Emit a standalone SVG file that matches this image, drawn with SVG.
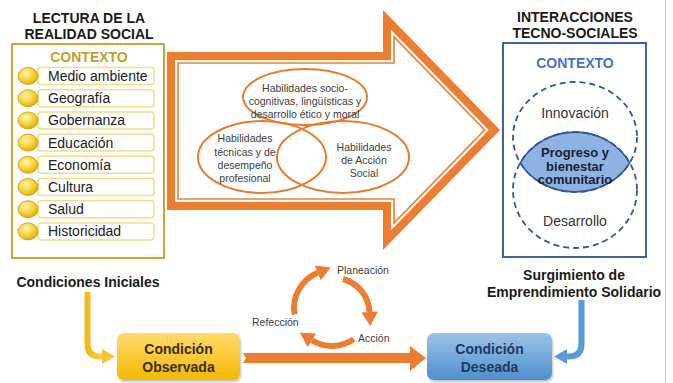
<svg xmlns="http://www.w3.org/2000/svg" width="673" height="383" viewBox="0 0 673 383">
  <defs>
    <radialGradient id="bead" cx="0.4" cy="0.35" r="0.7">
      <stop offset="0" stop-color="#fff6b0"/>
      <stop offset="0.55" stop-color="#f7d23a"/>
      <stop offset="1" stop-color="#d9a800"/>
    </radialGradient>
    <linearGradient id="gold" x1="0" y1="0" x2="0" y2="1">
      <stop offset="0" stop-color="#ffdb6e"/>
      <stop offset="1" stop-color="#f5b800"/>
    </linearGradient>
    <linearGradient id="sky" x1="0" y1="0" x2="0" y2="1">
      <stop offset="0" stop-color="#9dc3e6"/>
      <stop offset="1" stop-color="#4f8fcf"/>
    </linearGradient>
    <linearGradient id="yellowBar" x1="0" y1="0" x2="1" y2="0">
      <stop offset="0" stop-color="#f2b81e"/>
      <stop offset="1" stop-color="#f9cf4d"/>
    </linearGradient>
    <filter id="shadow" x="-10%" y="-10%" width="130%" height="140%">
      <feDropShadow dx="1" dy="2" stdDeviation="1.2" flood-color="#000" flood-opacity="0.25"/>
    </filter>
    <clipPath id="topClip"><ellipse cx="575" cy="137" rx="62" ry="55"/></clipPath>
  </defs>
  <style>
    text { font-family: "Liberation Sans", Arial, sans-serif; }
    .title { font-size: 14px; font-weight: bold; fill: #1a1a1a; text-anchor: middle; }
    .ctxGold { font-size: 14px; font-weight: bold; fill: #c4a02c; text-anchor: middle; }
    .ctxBlue { font-size: 14px; font-weight: bold; fill: #4472c4; text-anchor: middle; }
    .item { font-size: 14px; fill: #1a1a1a; }
    .itemBox { fill: #ffffff; stroke: #f3dc8a; stroke-width: 1.5; }
    .bead { fill: url(#bead); stroke: #c99a10; stroke-width: 0.8; }
    .venn { fill: none; stroke: #e57c33; stroke-width: 2; }
    .small { font-size: 10.5px; fill: #404040; text-anchor: middle; }
    .cyc { font-size: 10.5px; fill: #404040; }
    .dash { fill: none; stroke: #35568f; stroke-width: 1.8; stroke-dasharray: 6 4; }
    .mid { font-size: 14px; fill: #333333; text-anchor: middle; }
    .lens { font-size: 13px; font-weight: bold; fill: #1a1f33; text-anchor: middle; }
    .boxTxt { font-size: 14px; font-weight: bold; text-anchor: middle; }
    .orangeArc { fill: none; stroke: #ed7d31; stroke-width: 6; }
    .orangeHead { fill: #ed7d31; }
  </style>

  <rect width="673" height="383" fill="#ffffff"/>
  <line x1="665.5" y1="0" x2="665.5" y2="383" stroke="#c8c8c8" stroke-width="1"/>

  <!-- Left panel: reading of social reality -->
  <g id="lectura">
    <text class="title" x="89" y="23">LECTURA DE LA</text>
    <text class="title" x="89" y="39">REALIDAD SOCIAL</text>
    <rect x="12" y="44" width="152" height="214" fill="#ffffff" stroke="#c9a73f" stroke-width="2"/>
    <text class="ctxGold" x="89" y="62">CONTEXTO</text>
    <g id="item-medio"><rect class="itemBox" x="38" y="67.5" width="116" height="17" rx="3"/><ellipse class="bead" cx="28" cy="76" rx="10" ry="8.5"/><text class="item" x="48" y="81">Medio ambiente</text></g>
    <g id="item-geografia"><rect class="itemBox" x="38" y="89.7" width="116" height="17" rx="3"/><ellipse class="bead" cx="28" cy="98.2" rx="10" ry="8.5"/><text class="item" x="48" y="103.2">Geografía</text></g>
    <g id="item-gobernanza"><rect class="itemBox" x="38" y="111.9" width="116" height="17" rx="3"/><ellipse class="bead" cx="28" cy="120.4" rx="10" ry="8.5"/><text class="item" x="48" y="125.4">Gobernanza</text></g>
    <g id="item-educacion"><rect class="itemBox" x="38" y="134.1" width="116" height="17" rx="3"/><ellipse class="bead" cx="28" cy="142.6" rx="10" ry="8.5"/><text class="item" x="48" y="147.6">Educación</text></g>
    <g id="item-economia"><rect class="itemBox" x="38" y="156.3" width="116" height="17" rx="3"/><ellipse class="bead" cx="28" cy="164.8" rx="10" ry="8.5"/><text class="item" x="48" y="169.8">Economía</text></g>
    <g id="item-cultura"><rect class="itemBox" x="38" y="178.5" width="116" height="17" rx="3"/><ellipse class="bead" cx="28" cy="187" rx="10" ry="8.5"/><text class="item" x="48" y="192">Cultura</text></g>
    <g id="item-salud"><rect class="itemBox" x="38" y="200.7" width="116" height="17" rx="3"/><ellipse class="bead" cx="28" cy="209.2" rx="10" ry="8.5"/><text class="item" x="48" y="214.2">Salud</text></g>
    <g id="item-historicidad"><rect class="itemBox" x="38" y="222.9" width="116" height="17" rx="3"/><ellipse class="bead" cx="28" cy="231.4" rx="10" ry="8.5"/><text class="item" x="48" y="236.4">Historicidad</text></g>
  </g>

  <!-- Central block arrow with skill Venn diagram -->
  <g id="habilidades">
    <polygon points="167,52 383,52 383,10 500,130 383,250 383,210 167,210" fill="#ed7d31"/>
    <polygon points="175,60 391,60 391,29.7 488.8,130 391,230.3 391,202 175,202" fill="#ffffff"/>
    <polygon points="178,63 394,63 394,37 484.6,130 394,223 394,199 178,199" fill="none" stroke="#ed7d31" stroke-width="1.6"/>
    <ellipse class="venn" cx="305" cy="97" rx="62" ry="28"/>
    <ellipse class="venn" cx="262" cy="157" rx="64" ry="36"/>
    <ellipse class="venn" cx="343" cy="157" rx="66" ry="36"/>
    <text class="small" x="305" y="92">Habilidades socio-</text>
    <text class="small" x="305" y="105">cognitivas, lingüísticas y</text>
    <text class="small" x="305" y="118">desarrollo ético y moral</text>
    <text class="small" x="245" y="142">Habilidades</text>
    <text class="small" x="245" y="156">técnicas y de</text>
    <text class="small" x="245" y="169">desempeño</text>
    <text class="small" x="245" y="182">profesional</text>
    <text class="small" x="364" y="151">Habilidades</text>
    <text class="small" x="364" y="164">de Acción</text>
    <text class="small" x="364" y="177">Social</text>
  </g>

  <!-- Right panel: techno-social interactions -->
  <g id="interacciones">
    <text class="title" x="575" y="22">INTERACCIONES</text>
    <text class="title" x="575" y="38">TECNO-SOCIALES</text>
    <rect x="503" y="43" width="143" height="214" fill="#ffffff" stroke="#3f63a0" stroke-width="2"/>
    <text class="ctxBlue" x="575" y="68">CONTEXTO</text>
    <!-- overlap of the two dashed rings -->
    <ellipse cx="575" cy="190" rx="62" ry="58" fill="#8db3e2" clip-path="url(#topClip)"/>
    <path d="M520.3,162.8 A62,55 0 0 0 629.7,162.8 A62,58 0 0 0 520.3,162.8 Z" fill="none" stroke="#35568f" stroke-width="1.6"/>
    <ellipse class="dash" cx="575" cy="137" rx="62" ry="55"/>
    <ellipse class="dash" cx="575" cy="190" rx="62" ry="58"/>
    <text class="mid" x="575" y="118">Innovación</text>
    <text class="lens" x="575" y="157">Progreso y</text>
    <text class="lens" x="575" y="170.5">bienestar</text>
    <text class="lens" x="575" y="184">comunitario</text>
    <text class="mid" x="575" y="226">Desarrollo</text>
  </g>

  <!-- Bottom row labels -->
  <g id="condiciones-iniciales">
    <text class="title" x="88" y="287">Condiciones Iniciales</text>
  </g>
  <g id="surgimiento">
    <text class="title" x="574" y="280">Surgimiento de</text>
    <text class="title" x="574" y="297">Emprendimiento Solidario</text>
  </g>

  <g id="condicion-observada">
    <rect x="117" y="333" width="123" height="47" rx="7" fill="url(#gold)" filter="url(#shadow)"/>
    <text class="boxTxt" x="178.5" y="354" fill="#3a2c05">Condición</text>
    <text class="boxTxt" x="178.5" y="372" fill="#3a2c05">Observada</text>
  </g>
  <g id="condicion-deseada">
    <rect x="427" y="333" width="125" height="47" rx="7" fill="url(#sky)" filter="url(#shadow)"/>
    <text class="boxTxt" x="489.5" y="354" fill="#1f3864">Condición</text>
    <text class="boxTxt" x="489.5" y="372" fill="#1f3864">Deseada</text>
  </g>

  <!-- Cycle labels -->
  <g id="planeacion"><text class="cyc" x="337" y="274">Planeación</text></g>
  <g id="accion"><text class="cyc" x="358" y="342">Acción</text></g>
  <g id="refeccion"><text class="cyc" x="252" y="326">Refección</text></g>

  <!-- Connectors -->
  <g id="connectors">
    <!-- initial conditions to observed condition -->
    <path d="M87.5,292 V344 Q87.5,356.5 100,356.5 H103" fill="none" stroke="url(#yellowBar)" stroke-width="6"/>
    <polygon points="102,349 115,356.5 102,364" fill="#f7c435"/>
    <!-- emergence to desired condition -->
    <path d="M581.5,300 V344 Q581.5,356.5 569,356.5 H566" fill="none" stroke="#5b9bd5" stroke-width="6"/>
    <polygon points="567,349 554,356.5 567,364" fill="#5b9bd5"/>
    <!-- observed to desired -->
    <polygon points="243,353 410,353 410,346 426,358 410,371 410,363 243,363 246,358" fill="#ed7d31"/>
    <!-- planning / action / reflection cycle -->
    <path class="orangeArc" d="M294.6,314.6 A38,38 0 0 1 317.8,272.8"/>
    <polygon class="orangeHead" points="314.8,265.4 330.8,267.5 320.8,280.2"/>
    <path class="orangeArc" d="M343,279 A36,36 0 0 1 369.5,312"/>
    <polygon class="orangeHead" points="378,311.6 370.2,326 361.5,312.4"/>
    <path class="orangeArc" d="M353.8,339.1 A38,38 0 0 1 311.9,340.2"/>
    <polygon class="orangeHead" points="307.7,347 300,332.8 316.1,333.4"/>
  </g>
</svg>
